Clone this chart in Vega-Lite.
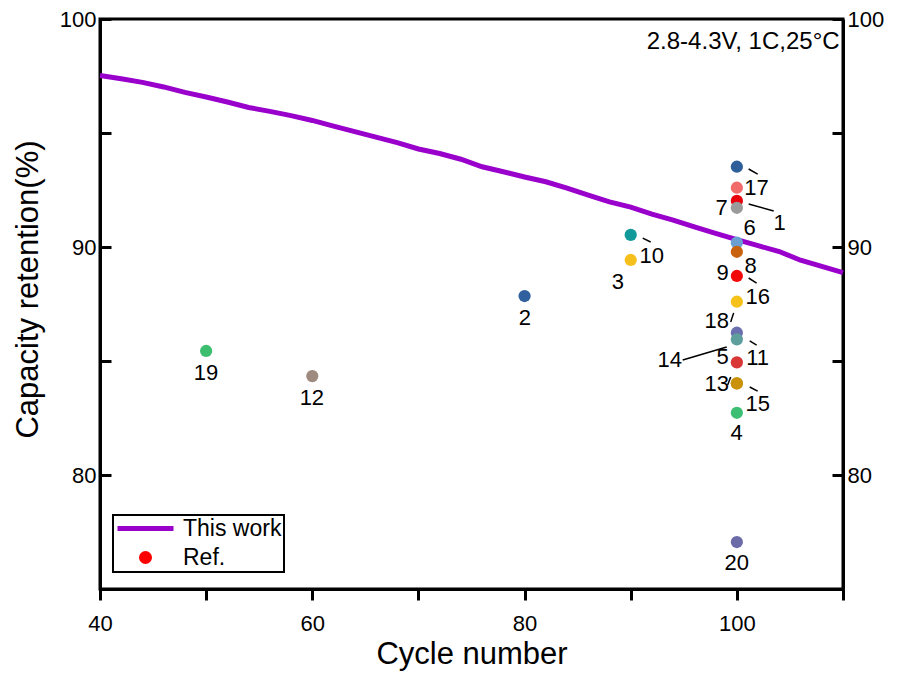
{
  "$schema": "https://vega.github.io/schema/vega-lite/v6.json",
  "autosize": {"type": "none"},
  "padding": {"left": 100, "top": 19, "right": 56, "bottom": 86},
  "width": 743,
  "height": 570,
  "config": {
    "font": "Liberation Sans",
    "view": {"stroke": "black", "strokeWidth": 3},
    "axis": {"grid": false, "domainColor": "black", "domainWidth": 3, "tickColor": "black", "tickWidth": 3, "labelColor": "black", "titleColor": "black", "labelFontSize": 22, "titleFontSize": 31, "titleFontWeight": "normal", "labelFont": "Liberation Sans", "titleFont": "Liberation Sans", "labelFlush": false}
  },
  "datasets": {
    "work": [
      {"cycle": 40, "retention": 97.52, "series": "This work"},
      {"cycle": 42, "retention": 97.38, "series": "This work"},
      {"cycle": 44, "retention": 97.22, "series": "This work"},
      {"cycle": 46, "retention": 97.02, "series": "This work"},
      {"cycle": 48, "retention": 96.78, "series": "This work"},
      {"cycle": 50, "retention": 96.58, "series": "This work"},
      {"cycle": 52, "retention": 96.36, "series": "This work"},
      {"cycle": 54, "retention": 96.12, "series": "This work"},
      {"cycle": 56, "retention": 95.95, "series": "This work"},
      {"cycle": 58, "retention": 95.76, "series": "This work"},
      {"cycle": 60, "retention": 95.55, "series": "This work"},
      {"cycle": 62, "retention": 95.30, "series": "This work"},
      {"cycle": 64, "retention": 95.06, "series": "This work"},
      {"cycle": 66, "retention": 94.82, "series": "This work"},
      {"cycle": 68, "retention": 94.58, "series": "This work"},
      {"cycle": 70, "retention": 94.30, "series": "This work"},
      {"cycle": 72, "retention": 94.10, "series": "This work"},
      {"cycle": 74, "retention": 93.85, "series": "This work"},
      {"cycle": 76, "retention": 93.52, "series": "This work"},
      {"cycle": 78, "retention": 93.30, "series": "This work"},
      {"cycle": 80, "retention": 93.07, "series": "This work"},
      {"cycle": 82, "retention": 92.86, "series": "This work"},
      {"cycle": 84, "retention": 92.58, "series": "This work"},
      {"cycle": 86, "retention": 92.27, "series": "This work"},
      {"cycle": 88, "retention": 91.98, "series": "This work"},
      {"cycle": 90, "retention": 91.75, "series": "This work"},
      {"cycle": 92, "retention": 91.44, "series": "This work"},
      {"cycle": 94, "retention": 91.18, "series": "This work"},
      {"cycle": 96, "retention": 90.88, "series": "This work"},
      {"cycle": 98, "retention": 90.60, "series": "This work"},
      {"cycle": 100, "retention": 90.32, "series": "This work"},
      {"cycle": 102, "retention": 90.06, "series": "This work"},
      {"cycle": 104, "retention": 89.80, "series": "This work"},
      {"cycle": 106, "retention": 89.42, "series": "This work"},
      {"cycle": 108, "retention": 89.15, "series": "This work"},
      {"cycle": 110, "retention": 88.88, "series": "This work"}
    ],
    "refs": [
      {"ref": "19", "cycle": 50, "retention": 85.44},
      {"ref": "12", "cycle": 60, "retention": 84.34},
      {"ref": "2", "cycle": 80, "retention": 87.85},
      {"ref": "10", "cycle": 90, "retention": 90.53},
      {"ref": "3", "cycle": 90, "retention": 89.43},
      {"ref": "1", "cycle": 100, "retention": 93.52},
      {"ref": "17", "cycle": 100, "retention": 92.60},
      {"ref": "7", "cycle": 100, "retention": 92.02},
      {"ref": "6", "cycle": 100, "retention": 91.72},
      {"ref": "14", "cycle": 100, "retention": 90.19},
      {"ref": "8", "cycle": 100, "retention": 89.79},
      {"ref": "9", "cycle": 100, "retention": 88.73},
      {"ref": "16", "cycle": 100, "retention": 87.60},
      {"ref": "18", "cycle": 100, "retention": 86.24},
      {"ref": "11", "cycle": 100, "retention": 85.95},
      {"ref": "5", "cycle": 100, "retention": 84.94},
      {"ref": "15", "cycle": 100, "retention": 84.02},
      {"ref": "13", "cycle": 100, "retention": 84.02},
      {"ref": "4", "cycle": 100, "retention": 82.73},
      {"ref": "20", "cycle": 100, "retention": 77.06}
    ],
    "labels": [
      {"ref": "19", "cycle": 49.98, "retention": 84.47},
      {"ref": "12", "cycle": 59.96, "retention": 83.38},
      {"ref": "2", "cycle": 80.02, "retention": 86.89},
      {"ref": "10", "cycle": 91.98, "retention": 89.61},
      {"ref": "3", "cycle": 88.78, "retention": 88.47},
      {"ref": "17", "cycle": 101.86, "retention": 92.59},
      {"ref": "7", "cycle": 98.57, "retention": 91.71},
      {"ref": "1", "cycle": 104.03, "retention": 91.05},
      {"ref": "6", "cycle": 101.21, "retention": 90.83},
      {"ref": "8", "cycle": 101.30, "retention": 89.17},
      {"ref": "9", "cycle": 98.66, "retention": 88.86},
      {"ref": "16", "cycle": 101.96, "retention": 87.81},
      {"ref": "18", "cycle": 98.10, "retention": 86.75},
      {"ref": "14", "cycle": 93.67, "retention": 85.04},
      {"ref": "5", "cycle": 98.66, "retention": 85.18},
      {"ref": "11", "cycle": 101.96, "retention": 85.13},
      {"ref": "13", "cycle": 98.10, "retention": 83.99},
      {"ref": "15", "cycle": 101.96, "retention": 83.11},
      {"ref": "4", "cycle": 99.98, "retention": 81.84},
      {"ref": "20", "cycle": 99.98, "retention": 76.14}
    ],
    "leaders": [
      {"x1": 101.11, "y1": 93.42, "x2": 101.96, "y2": 93.20},
      {"x1": 101.11, "y1": 91.89, "x2": 103.47, "y2": 91.58},
      {"x1": 91.13, "y1": 90.39, "x2": 91.88, "y2": 90.22},
      {"x1": 101.11, "y1": 88.64, "x2": 101.86, "y2": 88.42},
      {"x1": 99.70, "y1": 87.11, "x2": 99.42, "y2": 86.71},
      {"x1": 101.21, "y1": 85.88, "x2": 101.86, "y2": 85.70},
      {"x1": 94.90, "y1": 85.04, "x2": 99.04, "y2": 85.61},
      {"x1": 99.42, "y1": 84.30, "x2": 99.13, "y2": 83.95},
      {"x1": 101.21, "y1": 83.86, "x2": 101.96, "y2": 83.68}
    ],
    "note": [
      {"cycle": 109.68, "retention": 98.99, "text": "2.8-4.3V, 1C,25°C"}
    ]
  },
  "layer": [
    {
      "data": {"name": "work"},
      "mark": {"type": "line", "strokeWidth": 5, "interpolate": "linear"},
      "encoding": {
        "x": {"field": "cycle", "type": "quantitative", "scale": {"domain": [40, 110], "nice": false, "zero": false},
          "axis": {"values": [40, 50, 60, 70, 80, 90, 100, 110], "labelExpr": "datum.value % 20 === 0 && datum.value < 110 ? datum.label : ''",
            "ticks": true, "tickSize": 11,
            "encode": {"ticks": {"update": {"y2": {"signal": "datum.value % 20 === 0 ? 11 : 5"}}}},
            "labelPadding": 13, "title": "Cycle number", "titlePadding": 5}},
        "y": {"field": "retention", "type": "quantitative", "scale": {"domain": [75, 100], "nice": false, "zero": false},
          "axis": {"orient": "right", "values": [75, 80, 85, 90, 95, 100], "labelExpr": "datum.value % 10 === 0 ? datum.label : ''",
            "ticks": true, "tickSize": -11, "labelPadding": 15, "title": null,
            "encode": {"ticks": {"update": {"x2": {"signal": "datum.value % 10 === 0 ? -11 : -6"}}}}}},
        "stroke": {"field": "series", "type": "nominal",
          "scale": {"domain": ["This work", "Ref."], "range": ["#9900CC", "#FF0000"]},
          "legend": {"title": null, "orient": "none", "legendX": 13, "legendY": 496,
            "strokeColor": "black", "padding": 2, "labelFontSize": 23, "labelColor": "black", "labelFont": "Liberation Sans",
            "symbolType": "stroke", "symbolSize": 3136, "symbolStrokeWidth": 5, "rowPadding": 5, "labelOffset": 7, "clipHeight": 23,
            "encode": {
              "legend": {"update": {"strokeWidth": {"value": 2}}},
              "symbols": {"update": {
                "shape": {"signal": "datum.value === 'Ref.' ? 'M-0.143,0A0.143,0.143,0,1,0,0.143,0A0.143,0.143,0,1,0,-0.143,0Z' : 'stroke'"},
                "size": {"value": 3136},
                "fill": {"signal": "datum.value === 'Ref.' ? '#FF0000' : 'transparent'"},
                "strokeWidth": {"value": 5}
              }}
            }}}
      }
    },
    {
      "data": {"name": "refs"},
      "mark": {"type": "circle", "size": 150, "opacity": 1},
      "encoding": {
        "x": {"field": "cycle", "type": "quantitative", "scale": {"domain": [40, 110], "nice": false, "zero": false}},
        "y": {"field": "retention", "type": "quantitative", "scale": {"domain": [75, 100], "nice": false, "zero": false},
          "axis": {"orient": "left", "values": [75, 80, 85, 90, 95, 100], "labelExpr": "datum.value % 10 === 0 ? datum.label : ''",
            "ticks": true, "tickSize": -11, "labelPadding": 15,
            "encode": {"ticks": {"update": {"x2": {"signal": "datum.value % 10 === 0 ? 11 : 6"}}}},
            "title": "Capacity retention(%)", "titleX": -72, "titleY": 270, "titleBaseline": "middle"}},
        "fill": {"field": "ref", "type": "nominal", "legend": null,
          "scale": {"domain": ["1","2","3","4","5","6","7","8","9","10","11","12","13","14","15","16","17","18","19","20"],
            "range": ["#2F5F9A","#31609E","#F5C01C","#3CBF73","#D93636","#9A9A9A","#E8000B","#C8620E","#F20A0A","#12999A","#5E9E9C","#9E8A7E","#C99208","#6A9FD2","#C99208","#F6C21A","#F26B6B","#6A6FB0","#3DBE6E","#6B6BA8"]}}
      }
    },
    {
      "data": {"name": "leaders"},
      "mark": {"type": "rule", "color": "black", "strokeWidth": 1.5},
      "encoding": {
        "x": {"field": "x1", "type": "quantitative", "scale": {"domain": [40, 110], "nice": false, "zero": false}},
        "y": {"field": "y1", "type": "quantitative", "scale": {"domain": [75, 100], "nice": false, "zero": false}, "axis": null},
        "x2": {"field": "x2"},
        "y2": {"field": "y2"}
      }
    },
    {
      "data": {"name": "labels"},
      "mark": {"type": "text", "fontSize": 22, "color": "black", "align": "center", "baseline": "middle"},
      "encoding": {
        "x": {"field": "cycle", "type": "quantitative", "scale": {"domain": [40, 110], "nice": false, "zero": false}},
        "y": {"field": "retention", "type": "quantitative", "scale": {"domain": [75, 100], "nice": false, "zero": false}, "axis": null},
        "text": {"field": "ref"}
      }
    },
    {
      "data": {"name": "note"},
      "mark": {"type": "text", "fontSize": 24, "color": "black", "align": "right", "baseline": "middle"},
      "encoding": {
        "x": {"field": "cycle", "type": "quantitative", "scale": {"domain": [40, 110], "nice": false, "zero": false}},
        "y": {"field": "retention", "type": "quantitative", "scale": {"domain": [75, 100], "nice": false, "zero": false}, "axis": null},
        "text": {"field": "text"}
      }
    }
  ],
  "resolve": {"scale": {"y": "independent"}}
}
